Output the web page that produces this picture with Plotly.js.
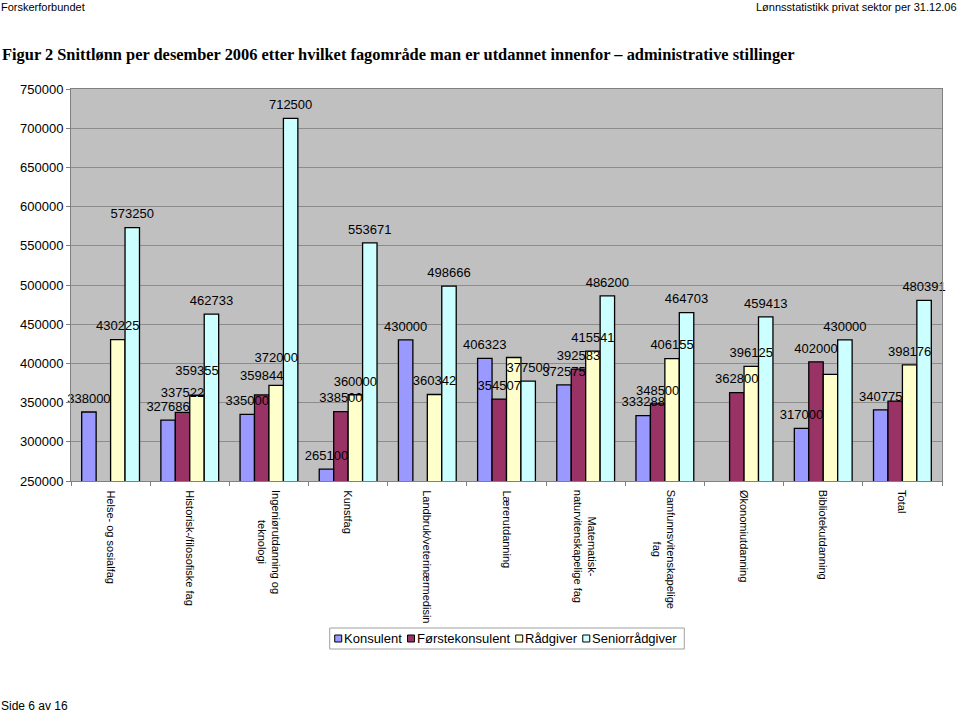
<!DOCTYPE html>
<html><head><meta charset="utf-8">
<script src="https://cdn.plot.ly/plotly-3.0.1.min.js"></script>
<style>html,body{margin:0;padding:0;background:#fff;overflow:hidden}#chart{width:959px;height:713px}</style>
</head><body><div id="chart"></div>
<script>
const categories = ["Helse- og sosialfag", "Historisk-/filosofiske fag", "Ingeniørutdanning og<br>teknologi", "Kunstfag", "Landbruk/veterinærmedisin", "Lærerutdanning", "Matematisk-<br>naturvitenskapelige fag", "Samfunnsvitenskapelige<br>fag", "Økonomiutdanning", "Bibliotekutdanning", "Total"];
const seriesNames = ["Konsulent", "Førstekonsulent", "Rådgiver", "Seniorrådgiver"];
const konsulent = [338000, 327686, 335000, 265100, 430000, 406323, 372575, 333288, null, 317000, 340775];
const forstekonsulent = [null, 337522, 359844, 338500, null, 354507, 392583, 348500, 362800, 402000, 352000];
const radgiver = [430225, 359355, 372000, 360000, 360342, 407500, 415541, 406155, 396125, 386000, 398176];
const seniorradgiver = [573250, 462733, 712500, 553671, 498666, 377500, 486200, 464703, 459413, 430000, 480391];
// indices whose value label is not printed in the reference, per series
const unlabeled = [[], [10], [5, 9], []];
const colors = ["#9999ff", "#993366", "#ffffcc", "#ccffff"];
const yTicks = [250000, 300000, 350000, 400000, 450000, 500000, 550000, 600000, 650000, 700000, 750000];

// style: extra lift (px) of a few value labels that sit higher in the reference
const labelLift = [{}, {1: 6, 2: 5.5}, {1: 11, 2: 14}, {}];

const headerLeft = "Forskerforbundet";
const headerRight = "Lønnsstatistikk privat sektor per 31.12.06";
const titleText = "Figur 2 Snittlønn per desember 2006 etter hvilket fagområde man er utdannet innenfor – administrative stillinger";
const footerText = "Side 6 av 16";

const FONT = "Liberation Sans, Arial, sans-serif";
const W = 959, H = 713, L = 71, R = 942, T = 89, B = 481;
const px2x = px => (px - L) / (R - L);
const py2y = py => (B - py) / (B - T);

const allSeries = [konsulent, forstekonsulent, radgiver, seniorradgiver];
// coloured bars
const barTraces = allSeries.map((vals, s) => ({
  type: 'bar',
  name: seriesNames[s],
  x: categories,
  y: vals,
  offsetgroup: String(s),
  marker: {color: colors[s], line: {color: '#000', width: 1.3}},
  hoverinfo: 'none'
}));
// value labels (scatter layer sits above all bars); invisible markers give the label offset
const labelTraces = allSeries.map((vals, s) => ({
  type: 'scatter',
  mode: 'markers+text',
  name: seriesNames[s] + ' labels',
  x: categories,
  y: vals,
  offsetgroup: String(s),
  marker: {size: vals.map((v, i) => 8 + 1.6 * (labelLift[s][i] || 0)), opacity: 0},
  text: vals.map((v, i) => (v == null || unlabeled[s].includes(i)) ? '' : String(v)),
  textposition: 'top center',
  textfont: {family: FONT, size: 13, color: '#000'},
  cliponaxis: false,
  hoverinfo: 'none'
}));

// custom legend
const ctx = document.createElement('canvas').getContext('2d');
ctx.font = '13px "Liberation Sans", Arial, sans-serif';
const sq = 7, gapAfterSq = 2, gapAfterText = 6;
const widths = seriesNames.map(n => ctx.measureText(n).width);
let total = 0;
widths.forEach((w, i) => { total += sq + gapAfterSq + w + (i < widths.length - 1 ? gapAfterText : 0); });
const legCenterX = 505.5, legCenterY = 638.5;
let lx = legCenterX - total / 2;
const shapes = [{
  type: 'rect', xref: 'paper', yref: 'paper',
  x0: px2x(lx - 5), x1: px2x(lx + total + 8), y0: py2y(649), y1: py2y(628),
  line: {color: '#a0a0a0', width: 1}, fillcolor: '#ffffff', layer: 'below'
}];
const annotations = [];
seriesNames.forEach((n, i) => {
  shapes.push({type: 'rect', xref: 'paper', yref: 'paper',
    x0: px2x(lx), x1: px2x(lx + sq), y0: py2y(legCenterY + sq / 2), y1: py2y(legCenterY - sq / 2),
    line: {color: '#000', width: 1}, fillcolor: colors[i]});
  annotations.push({xref: 'paper', yref: 'paper', x: px2x(lx + sq + gapAfterSq - 1), y: py2y(legCenterY),
    xanchor: 'left', yanchor: 'middle', text: n, showarrow: false, borderpad: 0,
    font: {family: FONT, size: 13, color: '#000'}});
  lx += sq + gapAfterSq + widths[i] + gapAfterText;
});

// category labels: rotated, lines centred like the reference
categories.forEach(c => {
  annotations.push({xref: 'x', yref: 'paper', x: c, y: py2y(489), xanchor: 'center', yanchor: 'top',
    textangle: 90, align: 'center', text: c, showarrow: false, borderpad: 0,
    font: {family: FONT, size: 11, color: '#000'}});
});

annotations.push(
  {xref: 'paper', yref: 'paper', x: px2x(0), y: py2y(7), xanchor: 'left', yanchor: 'middle', showarrow: false, borderpad: 0,
   text: headerLeft, font: {family: FONT, size: 11, color: '#000'}},
  {xref: 'paper', yref: 'paper', x: px2x(958), y: py2y(7), xanchor: 'right', yanchor: 'middle', showarrow: false, borderpad: 0,
   text: headerRight, font: {family: FONT, size: 11, color: '#000'}},
  {xref: 'paper', yref: 'paper', x: px2x(1), y: py2y(54), xanchor: 'left', yanchor: 'middle', showarrow: false, borderpad: 0,
   text: '<b>' + titleText + '</b>', font: {family: 'Liberation Serif, Times New Roman, serif', size: 16.4, color: '#000'}},
  {xref: 'paper', yref: 'paper', x: px2x(0), y: py2y(706), xanchor: 'left', yanchor: 'middle', showarrow: false, borderpad: 0,
   text: footerText, font: {family: FONT, size: 12, color: '#000'}}
);

const layout = {
  width: W, height: H,
  margin: {l: L, r: W - R, t: T, b: H - B, pad: 0},
  paper_bgcolor: '#ffffff',
  plot_bgcolor: '#c0c0c0',
  barmode: 'group',
  bargap: 0.27,
  bargroupgap: 0,
  scattermode: 'group',
  scattergap: 0.27,
  showlegend: false,
  font: {family: FONT, color: '#000'},
  xaxis: {
    type: 'category',
    showticklabels: false,
    ticks: 'outside', tickson: 'boundaries', ticklen: 4, tickcolor: '#808080',
    showline: true, linecolor: '#808080', linewidth: 1, mirror: true,
    showgrid: false, fixedrange: true
  },
  yaxis: {
    range: [250000, 750000],
    tickvals: yTicks,
    ticktext: yTicks.map(String),
    tickfont: {family: FONT, size: 13, color: '#000'},
    ticks: 'outside', ticklen: 4, tickcolor: '#808080',
    showline: true, linecolor: '#808080', linewidth: 1, mirror: true,
    showgrid: true, gridcolor: '#8c8c8c', gridwidth: 1,
    zeroline: false, fixedrange: true
  },
  shapes: shapes,
  annotations: annotations
};

Plotly.newPlot('chart', barTraces.concat(labelTraces), layout, {staticPlot: true, displayModeBar: false});
</script>
</body></html>
